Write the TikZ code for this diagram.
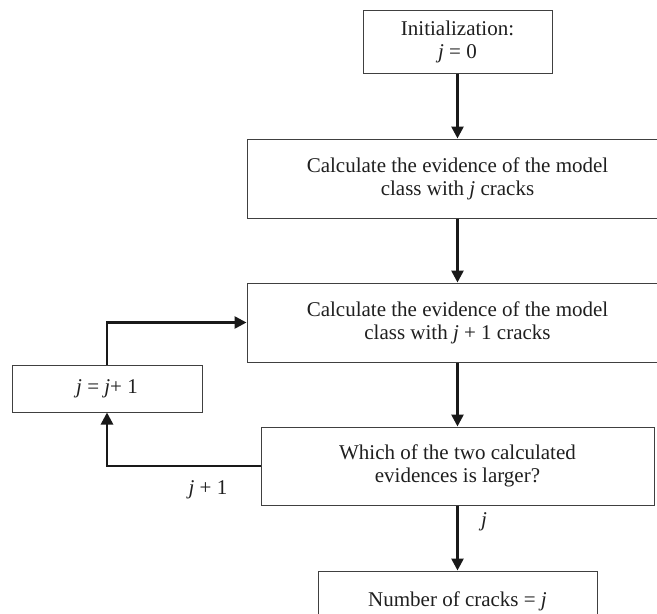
\documentclass[tikz,border=0pt]{standalone}
\usepackage{fontspec}
\setmainfont{Liberation Serif}
\usetikzlibrary{arrows.meta}
\begin{document}
\begin{tikzpicture}[x=1pt,y=-1pt,
  box/.style={draw=black!75, line width=1pt, fill=white, inner sep=0pt,
    align=center, text=black!88, font=\fontsize{21}{23}\selectfont},
  flow/.style={line width=2.6pt, draw=black!90,
    -{Triangle[length=12pt,width=12pt]}},
  lbl/.style={text=black!88, font=\fontsize{21}{23}\selectfont, inner sep=0pt}]
\useasboundingbox (0,0) rectangle (657,614);
\clip (0,0) rectangle (657,614);
\fill[white] (0,0) rectangle (657,614);

\node[box, minimum width=189pt, minimum height=63pt] (init) at (457.5,41.5)
  {Initialization:\\\textit{j} = 0};
\node[box, minimum width=421pt, minimum height=79pt] (calc1) at (457.5,178.5)
  {Calculate the evidence of the model\\class with \textit{j} cracks};
\node[box, minimum width=421pt, minimum height=79pt] (calc2) at (457.5,322.5)
  {Calculate the evidence of the model\\class with \textit{j} + 1 cracks};
\node[box, minimum width=393pt, minimum height=78pt] (which) at (457.5,466)
  {Which of the two calculated\\evidences is larger?};
\node[box, minimum width=190pt, minimum height=47pt] (inc) at (107,388.5)
  {\textit{j} = \textit{j}+ 1};
\node[box, minimum width=279pt, minimum height=60pt] (result) at (457.5,601)
  {Number of cracks = \textit{j}};

\coordinate (c1) at (107,466);
\coordinate (c2) at (107,322.5);

\draw[flow] (init.south) -- (calc1.north);
\draw[flow] (calc1.south) -- (calc2.north);
\draw[flow] (calc2.south) -- (which.north);
\draw[flow] (which.south) -- (result.north);
\draw[flow] (which.west) -- (c1) -- (inc.south);
\draw[flow] (inc.north) -- (c2) -- (calc2.west);

\node[lbl] (l1) at (208,490) {\textit{j} + 1};
\node[lbl] (l2) at (484,522) {\textit{j}};
\end{tikzpicture}
\end{document}
